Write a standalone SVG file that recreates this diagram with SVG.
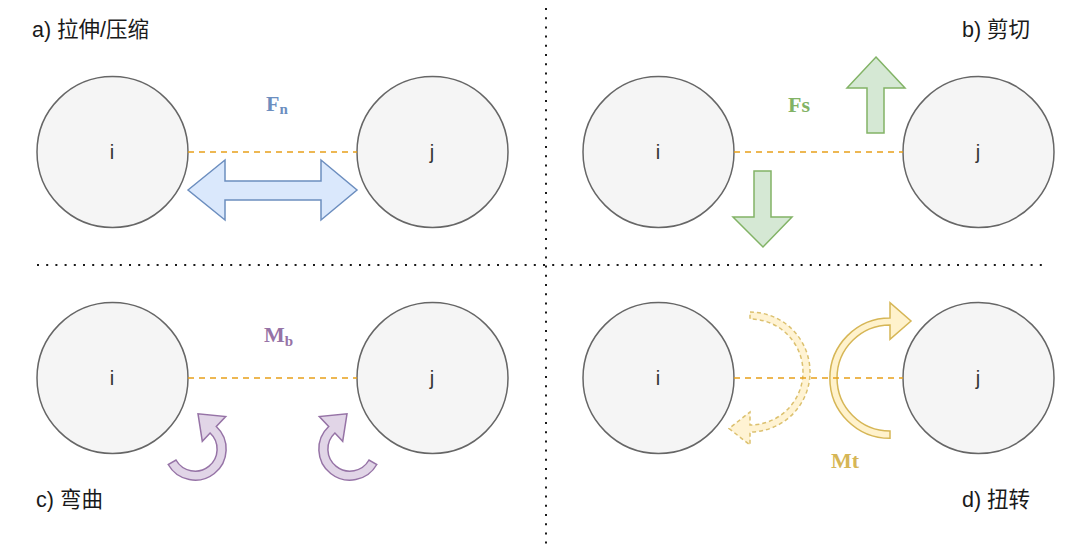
<svg xmlns="http://www.w3.org/2000/svg" width="1080" height="552" viewBox="0 0 1080 552">
<style>
.bg{fill:#ffffff}
.sep{stroke:#1a1a1a;stroke-width:2;stroke-dasharray:2 7.2;fill:none}
.ball{fill:#f5f5f5;stroke:#666666;stroke-width:1.5}
.lbl{font-family:"Liberation Sans",Arial,sans-serif;font-size:20px;fill:#333333;text-anchor:middle}
.title{font-family:"Liberation Sans","Noto Sans CJK SC",sans-serif;font-size:21.5px;fill:#1a1a1a}
.bond{stroke:#e8a01a;stroke-width:1.5;stroke-dasharray:6 5;fill:none}
.blue{fill:#dae8fc;stroke:#6c8ebf;stroke-width:1.5;stroke-linejoin:miter}
.green{fill:#d5e8d4;stroke:#82b366;stroke-width:1.5}
.purple{fill:#e1d5e7;stroke:#9673a6;stroke-width:1.5}
.yellow{fill:#fff2cc;stroke:#d6b656;stroke-width:1.5}
.yd{fill:#fff2cc;stroke:#d6b656;stroke-width:1.5;stroke-dasharray:4 3;opacity:0.85}
.force{font-family:"Liberation Serif","Times New Roman",serif;font-weight:bold;font-size:22px}
.sub{font-size:15px}
</style>
<defs>
<path id="curl" d="M168.2 464.5 A31 31 0 1 0 216.3 426.5 L225.7 416.6 L198 413.8 L202.3 441.3 L210.1 433 A22 22 0 1 1 176 460 Z"/>
</defs>
<rect class="bg" x="0" y="0" width="1080" height="552"/>
<g id="separators">
<line class="sep" x1="546" y1="8" x2="546" y2="549"/>
<line class="sep" x1="37" y1="265" x2="1046" y2="265"/>
</g>
<g id="titles">
<text class="title" x="32" y="37">a) 拉伸/压缩</text>
<text class="title" x="962" y="37">b) 剪切</text>
<text class="title" x="36" y="507">c) 弯曲</text>
<text class="title" x="962" y="507">d) 扭转</text>
</g>
<g id="panel-a">
<g id="a-i"><circle class="ball" cx="112.5" cy="152" r="75.5"/><text class="lbl" x="112" y="159">i</text></g>
<g id="a-j"><circle class="ball" cx="432.5" cy="152" r="75.5"/><text class="lbl" x="432" y="159">j</text></g>
<g id="a-force"><path class="blue" d="M188 190 L225 160 L225 181 L321 181 L321 160 L357 190 L321 220 L321 200 L225 200 L225 220 Z"/>
<text class="force" x="266" y="111" fill="#6c8ebf">F<tspan class="sub" dy="3">n</tspan></text></g>
</g>
<g id="panel-b">
<g id="b-i"><circle class="ball" cx="658.5" cy="152" r="75.5"/><text class="lbl" x="658" y="159">i</text></g>
<g id="b-j"><circle class="ball" cx="978.5" cy="152" r="75.5"/><text class="lbl" x="978" y="159">j</text></g>
<g id="b-force">
<path class="green" d="M876 57 L905 88 L884 88 L884 133 L867 133 L867 88 L847 88 Z"/>
<path class="green" d="M754 171 L771 171 L771 217 L792 217 L763 247 L733 217 L754 217 Z"/>
<text class="force" x="788" y="112" fill="#82b366">Fs</text>
</g>
</g>
<g id="panel-c">
<g id="c-i"><circle class="ball" cx="112.5" cy="378" r="75.5"/><text class="lbl" x="112" y="385">i</text></g>
<g id="c-j"><circle class="ball" cx="432.5" cy="378" r="75.5"/><text class="lbl" x="432" y="385">j</text></g>
<g id="c-moment">
<use href="#curl" class="purple"/>
<use href="#curl" class="purple" transform="translate(545 0) scale(-1 1)"/>
<text class="force" x="264" y="342" fill="#9673a6">M<tspan class="sub" dy="4">b</tspan></text>
</g>
</g>
<g id="panel-d">
<g id="d-i"><circle class="ball" cx="658.5" cy="378" r="75.5"/><text class="lbl" x="658" y="385">i</text></g>
<g id="d-j"><circle class="ball" cx="978.5" cy="378" r="75.5"/><text class="lbl" x="978" y="385">j</text></g>
<g id="d-moment">
<path class="yd" d="M750 312 A60 60 0 0 1 750 432 L750 445 L729 428.5 L750 412 L750 425 A53 53 0 0 0 750 319 Z"/>
<path class="yellow" d="M890 438.3 A60 60 0 0 1 890 318 L890 302.7 L911 321 L890 339.3 L890 325 A53 53 0 0 0 890 431 Z"/>
<text class="force" x="831" y="468" fill="#d6b656">Mt</text>
</g>
</g>
<g id="connectors">
<line class="bond" x1="188" y1="152" x2="357" y2="152"/>
<line class="bond" x1="734" y1="152" x2="903" y2="152"/>
<line class="bond" x1="188" y1="378" x2="357" y2="378"/>
<line class="bond" x1="734" y1="378" x2="903" y2="378"/>
</g>
</svg>
